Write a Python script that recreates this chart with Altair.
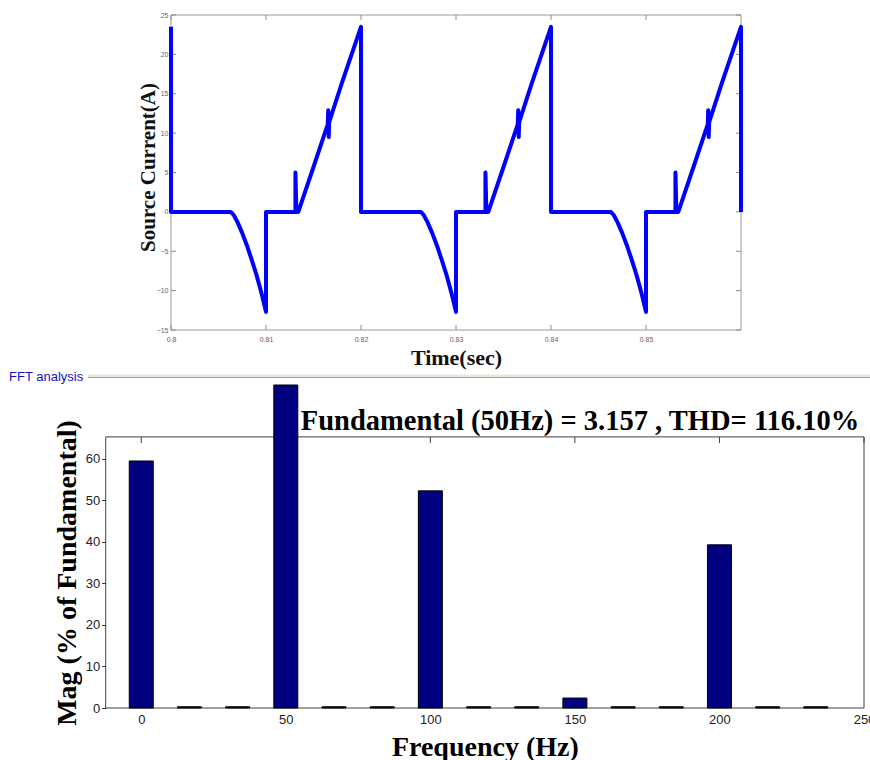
import altair as alt
import pandas as pd

# ---------------- source current waveform (three 50 Hz cycles) ----------------
time_s = [
    0.8000, 0.8000, 0.8063, 0.8066, 0.8070, 0.8075, 0.8080, 0.8085, 0.8090, 0.8095,
    0.8100, 0.8100, 0.8131, 0.8131, 0.8132, 0.8134, 0.8150, 0.8165, 0.81655, 0.8166,
    0.8166, 0.81665, 0.8180, 0.8200, 0.8200,
    0.8263, 0.8266, 0.8270, 0.8275, 0.8280, 0.8285, 0.8290, 0.8295,
    0.8300, 0.8300, 0.8331, 0.8331, 0.8332, 0.8334, 0.8350, 0.8365, 0.83655, 0.8366,
    0.8366, 0.83665, 0.8380, 0.8400, 0.8400,
    0.8463, 0.8466, 0.8470, 0.8475, 0.8480, 0.8485, 0.8490, 0.8495,
    0.8500, 0.8500, 0.8531, 0.8531, 0.8532, 0.8534, 0.8550, 0.8565, 0.85655, 0.8566,
    0.8566, 0.85665, 0.8580, 0.8600, 0.8600,
]
current_a = [
    23.5, 0.0, 0.0, -0.4, -1.3, -2.7, -4.3, -6.1, -8.0, -10.2,
    -12.7, 0.0, 0.0, 5.0, 0.0, 0.0, 5.7, 11.1, 12.9, 12.1,
    9.5, 11.4, 16.4, 23.5, 0.0,
    0.0, -0.4, -1.3, -2.7, -4.3, -6.1, -8.0, -10.2,
    -12.7, 0.0, 0.0, 5.0, 0.0, 0.0, 5.7, 11.1, 12.9, 12.1,
    9.5, 11.4, 16.4, 23.5, 0.0,
    0.0, -0.4, -1.3, -2.7, -4.3, -6.1, -8.0, -10.2,
    -12.7, 0.0, 0.0, 5.0, 0.0, 0.0, 5.7, 11.1, 12.9, 12.1,
    9.5, 11.4, 16.4, 23.5, 0.0,
]
time_ticks = [0.80, 0.81, 0.82, 0.83, 0.84, 0.85]
current_ticks = [-15, -10, -5, 0, 5, 10, 15, 20, 25]

# ---------------- FFT spectrum (% of fundamental) ----------------
harmonic_hz = [0, 16.67, 33.33, 50, 66.67, 83.33, 100, 116.67, 133.33,
               150, 166.67, 183.33, 200, 216.67, 233.33]
magnitude_pct = [59.5, 0.3, 0.3, 100.0, 0.3, 0.3, 52.3, 0.3, 0.3,
                 2.4, 0.3, 0.3, 39.3, 0.3, 0.3]
freq_ticks = [0, 50, 100, 150, 200, 250]
mag_ticks = [0, 10, 20, 30, 40, 50, 60]

summary_text = ["Fundamental (50Hz) = 3.157 , THD= 116.10%"]
panel_caption = ["FFT analysis"]

W, H = 870, 760
SERIF = "Liberation Serif"
SANS = "Liberation Sans"

wave = pd.DataFrame({"t": time_s, "i": current_a, "idx": list(range(len(time_s)))})
spec = pd.DataFrame({"f": harmonic_hz, "m": magnitude_pct})
one_row = alt.Data(values=[{}])

# ---------------- upper panel: time waveform ----------------
WL, WR, WT, WB = 171, 741, 15, 330
x_wave = alt.Scale(domain=[0.80, 0.86], range=[WL, WR], nice=False, zero=False)
y_wave = alt.Scale(domain=[-15, 25], range=[WB, WT], nice=False, zero=False)

ax_time = alt.Axis(
    orient="bottom", offset=WB - H, values=time_ticks, format=".2~f",
    ticks=False, domain=False, grid=False, labelFlush=False, labelOverlap=False,
    labelFont=SANS, labelFontSize=7, labelColor="#666", labelPadding=5,
    title="Time(sec)", titleFont=SERIF, titleFontSize=22, titleFontWeight="bold",
    titleColor="#111", titleX=(WL + WR) / 2, titleY=34, titleAlign="center",
    titleBaseline="alphabetic",
)
ax_current = alt.Axis(
    orient="left", offset=-WL, values=current_ticks,
    ticks=False, domain=False, grid=False, labelFlush=False, labelOverlap=False,
    labelFont=SANS, labelFontSize=7, labelColor="#666", labelPadding=3,
    title="Source Current(A)", titleFont=SERIF, titleFontSize=21, titleFontWeight="bold",
    titleColor="#111", titleX=-17, titleY=167, titleAngle=-90,
    titleAlign="center", titleBaseline="alphabetic",
)

wave_frame = alt.Chart(one_row).mark_rect(fillOpacity=0, stroke="#9a9a9a", strokeWidth=1).encode(
    x=alt.X(datum=0.80, scale=x_wave, axis=ax_time), x2=alt.X2(datum=0.86),
    y=alt.Y(datum=-15, scale=y_wave, axis=ax_current), y2=alt.Y2(datum=25),
)
wave_line = alt.Chart(wave).mark_line(
    color="#0000ff", strokeWidth=4, strokeJoin="round", strokeCap="butt"
).encode(
    x=alt.X("t:Q", scale=x_wave, axis=ax_time),
    y=alt.Y("i:Q", scale=y_wave, axis=ax_current),
    order=alt.Order("idx:Q"),
)
tick_style = dict(color="#8a8a8a", strokeWidth=1)
t_ticks = pd.DataFrame({"v": time_ticks})
c_ticks = pd.DataFrame({"v": current_ticks})
wave_ticks = [
    alt.Chart(t_ticks).mark_rule(**tick_style).encode(
        x=alt.X("v:Q", scale=x_wave, axis=ax_time), y=alt.value(WB), y2=alt.value(WB - 5)),
    alt.Chart(t_ticks).mark_rule(**tick_style).encode(
        x=alt.X("v:Q", scale=x_wave, axis=ax_time), y=alt.value(WT), y2=alt.value(WT + 5)),
    alt.Chart(c_ticks).mark_rule(**tick_style).encode(
        y=alt.Y("v:Q", scale=y_wave, axis=ax_current), x=alt.value(WL), x2=alt.value(WL + 5)),
    alt.Chart(c_ticks).mark_rule(**tick_style).encode(
        y=alt.Y("v:Q", scale=y_wave, axis=ax_current), x=alt.value(WR), x2=alt.value(WR - 5)),
]
wave_panel = alt.layer(wave_frame, *wave_ticks, wave_line)

# ---------------- lower panel: harmonic spectrum ----------------
SL, SR, ST, SB, S_CLIP = 105.7, 864, 437, 708, 385
FRAME_TOP = 65.3
x_freq = alt.Scale(domain=[-12.3, 250], range=[SL, SR], nice=False, zero=False)
y_mag = alt.Scale(domain=[0, 77.8], range=[SB, S_CLIP], nice=False, zero=False, clamp=True)
BAR_HALF = 4.15  # Hz

ax_freq = alt.Axis(
    orient="bottom", offset=SB - H, values=freq_ticks, format="d",
    ticks=False, domain=False, grid=False, labelFlush=False, labelOverlap=False,
    labelFont=SANS, labelFontSize=13, labelColor="#222", labelPadding=5,
    title="Frequency (Hz)", titleFont=SERIF, titleFontSize=28, titleFontWeight="bold",
    titleColor="#000", titleX=(SL + SR) / 2, titleY=47, titleAlign="center",
    titleBaseline="alphabetic",
)
ax_mag = alt.Axis(
    orient="left", offset=-SL, values=mag_ticks, format="d",
    ticks=True, tickSize=4, tickColor="#333", domain=False, grid=False,
    labelFlush=False, labelOverlap=False,
    labelFont=SANS, labelFontSize=13, labelColor="#222", labelPadding=2,
    title="Mag (% of Fundamental)", titleFont=SERIF, titleFontSize=28, titleFontWeight="bold",
    titleColor="#000", titleX=-30, titleY=(ST + SB) / 2, titleAngle=-90,
    titleAlign="center", titleBaseline="alphabetic",
)

spec_frame = alt.Chart(one_row).mark_rect(fillOpacity=0, stroke="#404040", strokeWidth=1).encode(
    x=alt.X(datum=-12.3, scale=x_freq, axis=ax_freq), x2=alt.X2(datum=250),
    y=alt.Y(datum=0, scale=y_mag, axis=ax_mag), y2=alt.Y2(datum=FRAME_TOP),
)
spec_ticks = alt.Chart(pd.DataFrame({"v": freq_ticks})).mark_rule(color="#404040", strokeWidth=1).encode(
    x=alt.X("v:Q", scale=x_freq, axis=ax_freq), y=alt.value(ST), y2=alt.value(ST + 6),
)
spec_bars = alt.Chart(spec).transform_calculate(
    f0=f"datum.f - {BAR_HALF}", f1=f"datum.f + {BAR_HALF}"
).mark_bar(fill="#000080", stroke="#000000", strokeWidth=1).encode(
    x=alt.X("f0:Q", scale=x_freq, axis=ax_freq), x2="f1:Q",
    y=alt.Y("m:Q", scale=y_mag, axis=ax_mag), y2=alt.Y2(datum=0),
)
spec_panel = alt.layer(spec_frame, spec_ticks, spec_bars)

# ---------------- panel header and summary text ----------------
caption_df = pd.DataFrame({"label": panel_caption})
header_rule = alt.Chart(caption_df).mark_rule(color="#ebe9df", strokeWidth=3).encode(
    x=alt.value(88), x2=alt.value(W), y=alt.value(376)
)
header_line = alt.Chart(caption_df).mark_rule(color="#9c9c9c", strokeWidth=1).encode(
    x=alt.value(88), x2=alt.value(W), y=alt.value(377.5)
)
header_text = alt.Chart(caption_df).mark_text(
    font=SANS, fontSize=13, color="#1010d0", align="left", baseline="middle"
).encode(x=alt.value(9), y=alt.value(377), text="label:N")

summary = alt.Chart(pd.DataFrame({"label": summary_text})).mark_text(
    font=SERIF, fontSize=28.5, fontWeight="bold", color="#000",
    align="center", baseline="alphabetic"
).encode(x=alt.value(580), y=alt.value(430), text="label:N")

chart = alt.layer(
    wave_panel, spec_panel, header_rule, header_line, header_text, summary
).resolve_scale(
    x="independent", y="independent"
).properties(
    width=W, height=H, padding=0, autosize=alt.AutoSizeParams(type="none"),
    background="white",
).configure_view(stroke=None)

chart.save("out.html", embed_options={"renderer": "svg", "actions": False})
